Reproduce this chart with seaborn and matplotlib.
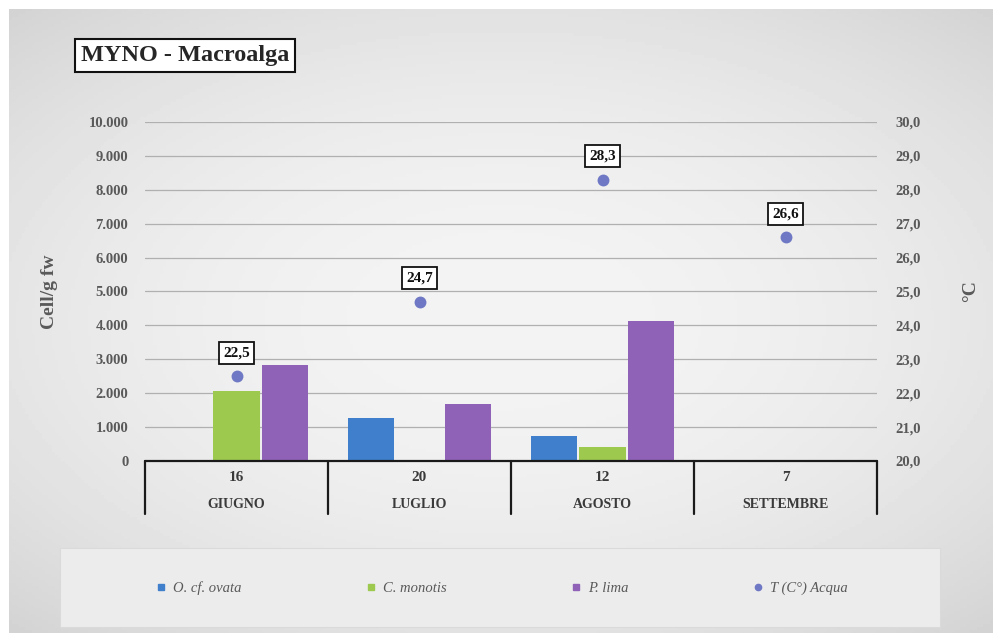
import numpy as np
import pandas as pd
import matplotlib
matplotlib.use("Agg")
import matplotlib.pyplot as plt
from matplotlib.lines import Line2D
from matplotlib.patches import Rectangle
import matplotlib.transforms as mtransforms
import seaborn as sns

# --- data -------------------------------------------------------------
mesi = ["GIUGNO", "LUGLIO", "AGOSTO", "SETTEMBRE"]
giorni = ["16", "20", "12", "7"]
specie = ["O. cf. ovata", "C. monotis", "P. lima"]
o_ovata = [0, 1270, 740, 0]
c_monotis = [2050, 0, 400, 30]
p_lima = [2830, 1680, 4120, 20]
temp_acqua = [22.5, 24.7, 28.3, 26.6]

colori = ["#3f7fcc", "#9cc94e", "#8f62b8"]
col_temp = "#6e78c4"
col_testo = "#595959"

df = pd.DataFrame({
    "mese": np.repeat(mesi, len(specie)),
    "specie": specie * len(mesi),
    "valore": np.ravel(np.column_stack([o_ovata, c_monotis, p_lima])),
})

sns.set_theme(style="white")
plt.rcParams["font.family"] = ["Liberation Serif", "DejaVu Serif"]

fig = plt.figure(figsize=(10, 6.37), dpi=100)
fig.patch.set_facecolor("white")

# soft grey panel behind everything
bg = fig.add_axes([0.009, 0.0063, 0.984, 0.98], zorder=-10)
yy, xx = np.mgrid[-1:1:200j, -1:1:300j]
r = np.sqrt((xx / 1.1) ** 2 + (yy / 1.0) ** 2)
grad = 0.955 - 0.07 * np.clip(r, 0, 1.4) ** 2
bg.imshow(grad, cmap="gray", vmin=0, vmax=1, aspect="auto", extent=[0, 1, 0, 1])
bg.set_axis_off()

# legend panel
fig.patches.append(Rectangle((0.06, 0.016), 0.88, 0.124, transform=fig.transFigure,
                             facecolor="#ececec", edgecolor="#dadada", lw=0.8, zorder=-5))

ax = fig.add_axes([0.145, 0.2763, 0.732, 0.5322])
ax.patch.set_alpha(0)
sns.barplot(data=df, x="mese", y="valore", hue="specie", order=mesi, hue_order=specie,
            palette=colori, width=0.8, gap=0.05, saturation=1, legend=False, ax=ax,
            linewidth=0, edgecolor="none", zorder=3)
ax.set_ylim(0, 10000)
ax.set_xlim(-0.5, 3.5)
ax.set_yticks(np.arange(0, 10001, 1000))
ax.set_yticklabels([f"{v:,}".replace(",", ".") for v in range(0, 10001, 1000)])
ax.yaxis.grid(True, color="#b0b0b0", lw=0.9, zorder=0)
ax.xaxis.grid(False)
for s in ax.spines.values():
    s.set_visible(False)
ax.tick_params(axis="y", length=0, pad=12, labelsize=10.5, labelcolor=col_testo)
for t in ax.get_yticklabels():
    t.set_fontweight("bold")
ax.set_xticks([])
ax.set_xlabel("")
ax.set_ylabel("Cell/g fw", fontsize=14, fontweight="bold", color=col_testo, labelpad=22)

# multi-level category axis
trans = mtransforms.blended_transform_factory(ax.transData, ax.transAxes)
ax.plot([-0.5, 3.5], [0, 0], color="#1a1a1a", lw=1.6, transform=trans, clip_on=False, zorder=5)
for xb in np.arange(-0.5, 3.6, 1.0):
    ax.plot([xb, xb], [0, -0.155], color="#1a1a1a", lw=1.6, transform=trans, clip_on=False, zorder=5)
for i, (g, m) in enumerate(zip(giorni, mesi)):
    ax.text(i, -0.05, g, transform=trans, ha="center", va="center", fontsize=11,
            fontweight="bold", color="#3a3a3a")
    ax.text(i, -0.127, m, transform=trans, ha="center", va="center", fontsize=10,
            fontweight="bold", color="#3a3a3a")

# water temperature on the secondary axis
ax2 = ax.twinx()
sns.pointplot(x=mesi, y=temp_acqua, order=mesi, ax=ax2, linestyle="none", markers="o",
              color=col_temp, markersize=6.5, zorder=6)
ax2.set_ylim(20, 30)
ax2.set_xlim(-0.5, 3.5)
ax2.set_yticks(np.arange(20, 30.1, 1))
ax2.set_yticklabels([f"{v:.1f}".replace(".", ",") for v in np.arange(20, 30.1, 1)])
for s in ax2.spines.values():
    s.set_visible(False)
ax2.tick_params(axis="y", length=0, pad=13, labelsize=10.5, labelcolor=col_testo)
for t in ax2.get_yticklabels():
    t.set_fontweight("bold")
ax2.set_ylabel("°C", fontsize=14, fontweight="bold", color=col_testo, labelpad=30)
ax2.grid(False)
for i, t in enumerate(temp_acqua):
    ax2.annotate(f"{t:.1f}".replace(".", ","), (i, t), xytext=(0, 17), textcoords="offset points",
                 ha="center", va="center", fontsize=11, fontweight="bold", color="#111111",
                 bbox=dict(boxstyle="square,pad=0.3", facecolor="white", edgecolor="#111111", lw=1.3),
                 zorder=7)

# title box
fig.text(0.081, 0.913, "MYNO - Macroalga", ha="left", va="center", fontsize=17.5,
         fontweight="bold", color="#262626",
         bbox=dict(boxstyle="square,pad=0.25", facecolor="white", edgecolor="#111111", lw=1.5))

# legend
handles = [Line2D([], [], marker="s", linestyle="none", color=c, markersize=4.5) for c in colori]
handles.append(Line2D([], [], marker="o", linestyle="none", color=col_temp, markersize=4.5))
labels = specie + ["T (C°) Acqua"]
leg = fig.legend(handles, labels, loc="center", bbox_to_anchor=(0.502, 0.077), ncol=4,
                 frameon=False, handlelength=0.6, handletextpad=0.5, columnspacing=8.6,
                 prop=dict(family="Liberation Serif", style="italic", size=10.5))
for t in leg.get_texts():
    t.set_color(col_testo)

fig.savefig("out.png", dpi=100)
